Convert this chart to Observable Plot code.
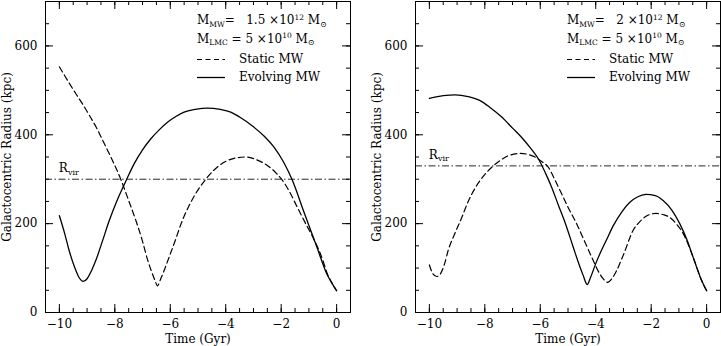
<!DOCTYPE html>
<html><head><meta charset="utf-8">
<script src="https://cdn.jsdelivr.net/npm/d3@7"></script>
<script src="https://cdn.jsdelivr.net/npm/@observablehq/plot@0.6"></script>
<style>
body{margin:0;background:#fff;}
#wrap{display:flex;width:721px;height:346px;background:#fff;}
text{white-space:pre;}
</style></head><body><div id="wrap"></div>
<script>
// ---- Panel A: M_MW = 1.5e12 ----
const staticTimeA   = [-10, -9.7, -9.41, -9.17, -8.93, -8.68, -8.44, -8.23, -8.03, -7.78, -7.5, -7.24, -7.0, -6.82, -6.65, -6.55, -6.46, -6.35, -6.2, -6.04, -5.82, -5.62, -5.35, -5.08, -4.72, -4.4, -4.06, -3.7, -3.28, -2.9, -2.5, -2.2, -1.96, -1.7, -1.42, -1.1, -0.82, -0.5, -0.34, -0.15, 0];
const staticRadiusA = [553, 522, 493, 470, 445, 418, 388, 361, 335, 299, 252, 207, 160, 119, 88, 72, 60, 75, 98, 125, 162, 198, 237, 268, 300, 322, 338, 347, 350, 344, 331, 315, 298, 272, 237, 198, 165, 118, 88, 64, 49];
const evolvingTimeA   = [-10, -9.8, -9.65, -9.45, -9.3, -9.14, -9.0, -8.85, -8.68, -8.45, -8.2, -7.9, -7.57, -7.3, -7.0, -6.7, -6.4, -6.1, -5.8, -5.5, -5.1, -4.66, -4.2, -3.82, -3.5, -3.0, -2.6, -2.26, -1.9, -1.6, -1.18, -0.7, -0.34, -0.15, 0];
const evolvingRadiusA = [218, 176, 140, 102, 80, 70, 76, 93, 118, 160, 207, 255, 300, 335, 366, 391, 411, 428, 441, 451, 457, 460, 457, 451, 440, 418, 396, 372, 337, 298, 226, 145, 85, 64, 49];
const rVirA = 300;
const massMWA = "1.5";

// ---- Panel B: M_MW = 2e12 ----
const staticTimeB   = [-10, -9.88, -9.73, -9.6, -9.45, -9.32, -9.1, -8.83, -8.6, -8.35, -8.05, -7.75, -7.45, -7.15, -6.73, -6.45, -6.19, -5.95, -5.71, -5.5, -5.29, -5.0, -4.69, -4.4, -4.09, -3.9, -3.72, -3.57, -3.42, -3.25, -3.0, -2.65, -2.4, -2.17, -1.83, -1.55, -1.33, -1.1, -0.84, -0.49, -0.2, 0];
const staticRadiusB = [107, 88, 81, 87, 110, 140, 175, 214, 250, 280, 307, 327, 342, 353, 358, 356, 350, 340, 327, 302, 275, 237, 200, 160, 117, 92, 75, 68, 76, 94, 130, 185, 205, 217, 223, 220, 214, 200, 177, 125, 75, 49];
const evolvingTimeB   = [-10, -9.5, -9.07, -8.6, -8.17, -7.8, -7.39, -7.0, -6.67, -6.35, -6.07, -5.8, -5.59, -5.35, -5.11, -4.81, -4.6, -4.45, -4.31, -4.18, -4.0, -3.85, -3.6, -3.37, -3.05, -2.77, -2.5, -2.19, -1.85, -1.57, -1.25, -0.97, -0.7, -0.49, -0.2, 0];
const evolvingRadiusB = [482, 488, 490, 486, 477, 461, 440, 415, 394, 370, 346, 312, 282, 242, 203, 147, 108, 83, 63, 80, 110, 132, 165, 195, 227, 248, 260, 266, 263, 252, 230, 200, 162, 125, 75, 49];
const rVirB = 330;
const massMWB = "2";

const massLMC = "5";
const xTickLabels = [-10, -8, -6, -4, -2, 0];
const xMinorTicks = [-10, -9.5, -9, -8.5, -8, -7.5, -7, -6.5, -6, -5.5, -5, -4.5, -4, -3.5, -3, -2.5, -2, -1.5, -1, -0.5, 0];
const yTickLabels = [0, 200, 400, 600];
const yMinorTicks = [50, 100, 150, 200, 250, 300, 350, 400, 450, 500, 550, 600, 650];
const xLabel = "Time (Gyr)";
const yLabel = "Galactocentric Radius (kpc)";
const legendStatic = "Static MW";
const legendEvolving = "Evolving MW";

const FONT = "DejaVu Serif";
const fmt = d => d < 0 ? "\u2212" + Math.abs(d) : String(d);

function panel(o) {
  const W = o.width, H = 346, mt = 1, mb = 34, ml = o.ml, mr = o.mr;
  const fw = W - ml - mr, fh = H - mt - mb;
  const st = o.st.map((t, i) => ({t, r: o.sr[i]}));
  const ev = o.et.map((t, i) => ({t, r: o.er[i]}));
  const plot = Plot.plot({
    width: W, height: H, marginTop: mt, marginBottom: mb, marginLeft: ml, marginRight: mr,
    x: {domain: [-10.5, 0.5]},
    y: {domain: [0, 700]},
    style: {fontFamily: FONT, fontSize: "12px", color: "#000", background: "#fff"},
    marks: [
      Plot.ruleY([o.rvir], {stroke: "#111", strokeWidth: 0.9, strokeDasharray: "7,2.5,1.5,2.5"}),
      Plot.line(st, {x: "t", y: "r", curve: "monotone-x", stroke: "#000", strokeWidth: 1.2, strokeDasharray: "6,3.5"}),
      Plot.line(ev, {x: "t", y: "r", curve: "monotone-x", stroke: "#000", strokeWidth: 1.3}),
      Plot.ruleX(xMinorTicks, {insetTop: fh - 4, stroke: "#000"}),
      Plot.ruleX(xMinorTicks, {insetBottom: fh - 4, stroke: "#000"}),
      Plot.ruleX(xTickLabels, {insetTop: fh - 8, stroke: "#000"}),
      Plot.ruleX(xTickLabels, {insetBottom: fh - 8, stroke: "#000"}),
      Plot.ruleY(yMinorTicks, {insetRight: fw - 4, stroke: "#000"}),
      Plot.ruleY(yMinorTicks, {insetLeft: fw - 4, stroke: "#000"}),
      Plot.ruleY(yTickLabels, {insetRight: fw - 8, stroke: "#000"}),
      Plot.ruleY(yTickLabels, {insetLeft: fw - 8, stroke: "#000"}),
      Plot.frame({stroke: "#000", strokeWidth: 1}),
      Plot.axisX(xTickLabels, {tickSize: 0, tickPadding: 7, tickFormat: fmt, label: null}),
      Plot.axisY(yTickLabels, {tickSize: 0, tickPadding: 8, tickFormat: fmt, label: null}),
      Plot.text([xLabel], {text: d => d, frameAnchor: "bottom", dy: 27, lineAnchor: "middle", textAnchor: "middle"}),
      Plot.text([yLabel], {text: d => d, frameAnchor: "left", dx: -38, rotate: -90, lineAnchor: "middle", textAnchor: "middle"})
    ]
  });
  const svg = d3.select(plot);
  const xs = plot.scale("x"), ys = plot.scale("y");
  const g = svg.append("g").attr("font-family", FONT).attr("font-size", 12).attr("fill", "#000").attr("text-anchor", "start");
  // R_vir label
  const rv = g.append("text").attr("x", xs.apply(-10)).attr("y", ys.apply(o.rvir) - 6.5);
  rv.append("tspan").text("R");
  rv.append("tspan").attr("font-size", 8).attr("dy", 2.5).text("vir");
  // legend
  const lx = W - mr - 153;
  const l1 = g.append("text").attr("x", lx).attr("y", 24);
  l1.append("tspan").text("M");
  l1.append("tspan").attr("font-size", 7.5).attr("dy", 2.5).text("MW");
  l1.append("tspan").attr("dy", -2.5).text("=   " + o.mass + " \u00d710");
  l1.append("tspan").attr("font-size", 7.5).attr("dy", -4.5).text("12");
  l1.append("tspan").attr("dy", 4.5).text(" M");
  l1.append("tspan").attr("font-size", 8).attr("dy", 2.5).text("\u2299");
  const l2 = g.append("text").attr("x", lx).attr("y", 42.5);
  l2.append("tspan").text("M");
  l2.append("tspan").attr("font-size", 7.5).attr("dy", 2.5).text("LMC");
  l2.append("tspan").attr("dy", -2.5).text(" = " + massLMC + " \u00d710");
  l2.append("tspan").attr("font-size", 7.5).attr("dy", -4.5).text("10");
  l2.append("tspan").attr("dy", 4.5).text(" M");
  l2.append("tspan").attr("font-size", 8).attr("dy", 2.5).text("\u2299");
  g.append("line").attr("x1", lx).attr("x2", lx + 28).attr("y1", 59.5).attr("y2", 59.5)
    .attr("stroke", "#000").attr("stroke-width", 1.2).attr("stroke-dasharray", "5,3.5");
  g.append("text").attr("x", lx + 42).attr("y", 63).text(legendStatic);
  g.append("line").attr("x1", lx).attr("x2", lx + 28).attr("y1", 77.5).attr("y2", 77.5)
    .attr("stroke", "#000").attr("stroke-width", 1.3);
  g.append("text").attr("x", lx + 42).attr("y", 81).text(legendEvolving);
  return plot;
}

const wrap = document.getElementById("wrap");
wrap.appendChild(panel({width: 360, ml: 45, mr: 10, st: staticTimeA, sr: staticRadiusA, et: evolvingTimeA, er: evolvingRadiusA, rvir: rVirA, mass: massMWA}));
wrap.appendChild(panel({width: 361, ml: 55, mr: 1, st: staticTimeB, sr: staticRadiusB, et: evolvingTimeB, er: evolvingRadiusB, rvir: rVirB, mass: massMWB}));
</script></body></html>
